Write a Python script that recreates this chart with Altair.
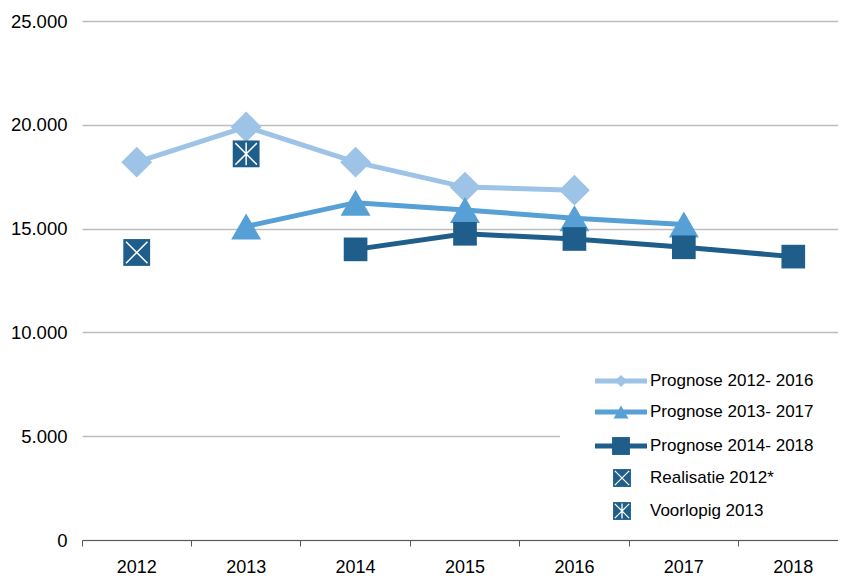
import altair as alt
import pandas as pd

# ---------------- data ----------------
years = ["2012", "2013", "2014", "2015", "2016", "2017", "2018"]
series_names = ["Prognose 2012- 2016", "Prognose 2013- 2017", "Prognose 2014- 2018"]
prognose_2012_2016 = [18200, 19900, 18200, 17000, 16850, None, None]
prognose_2013_2017 = [None, 15100, 16250, 15900, 15500, 15200, None]
prognose_2014_2018 = [None, None, 14000, 14750, 14500, 14100, 13650]
realisatie_label = "Realisatie 2012*"
realisatie_2012 = [13850, None, None, None, None, None, None]
voorlopig_label = "Voorlopig 2013"
voorlopig_2013 = [None, 18600, None, None, None, None, None]
y_ticks = [0, 5000, 10000, 15000, 20000, 25000]

# ---------------- styles ----------------
FONT = "Liberation Sans"
colors = ["#9DC3E6", "#56A0D6", "#1F5E8A"]
shapes = ["diamond", "triangle-up", "square"]
sizes = [950, 900, 560]
legend_sizes = [150, 220, 320]
X_PATH = "M-0.8,-0.8L0.8,0.8M-0.8,0.8L0.8,-0.8"
AST_PATH = "M-0.8,-0.8L0.8,0.8M-0.8,0.8L0.8,-0.8M0,-0.85L0,0.85"

W, H = 766, 519

all_series = [prognose_2012_2016, prognose_2013_2017, prognose_2014_2018]

x_enc = alt.X("year:N", sort=years,
              scale=alt.Scale(type="band", domain=years, paddingInner=0, paddingOuter=0),
              axis=alt.Axis(title=None, labelAngle=0, bandPosition=0, tickSize=6,
                            domain=True, domainColor="#595959", tickColor="#595959",
                            labelFont=FONT, labelFontSize=18, labelColor="#000000",
                            labelPadding=12, grid=False))
y_enc_kw = dict(scale=alt.Scale(domain=[0, 25000], nice=False),
                axis=alt.Axis(title=None, values=y_ticks, grid=True, gridColor="#BDBDBD",
                              gridWidth=1.5, domain=False, ticks=False, tickSize=0,
                              labelPadding=15, labelFont=FONT, labelFontSize=18.5,
                              labelColor="#000000",
                              labelExpr="replace(format(datum.value, ','), ',', '.')"))

layers = []
for i, (name, vals) in enumerate(zip(series_names, all_series)):
    df = pd.DataFrame({"year": [y for y, v in zip(years, vals) if v is not None],
                       "value": [v for v in vals if v is not None]})
    layers.append(alt.Chart(df).mark_line(color=colors[i], strokeWidth=5).encode(
        x=x_enc, y=alt.Y("value:Q", **y_enc_kw)))
    layers.append(alt.Chart(df).mark_point(shape=shapes[i], filled=True, opacity=1,
                                           color=colors[i], size=sizes[i], strokeWidth=0).encode(
        x=x_enc, y=alt.Y("value:Q", **y_enc_kw)))

for vals, path in [(realisatie_2012, X_PATH), (voorlopig_2013, AST_PATH)]:
    df = pd.DataFrame({"year": [y for y, v in zip(years, vals) if v is not None],
                       "value": [v for v in vals if v is not None]})
    layers.append(alt.Chart(df).mark_point(shape="square", filled=True, opacity=1,
                                           color=colors[2], size=720, strokeWidth=0).encode(
        x=x_enc, y=alt.Y("value:Q", **y_enc_kw)))
    layers.append(alt.Chart(df).mark_point(shape=path, filled=False, opacity=1,
                                           stroke="white", size=720, strokeWidth=1.5).encode(
        x=x_enc, y=alt.Y("value:Q", **y_enc_kw)))

# ---------------- legend (drawn manually) ----------------
one = pd.DataFrame({"a": [0]})
layers.append(alt.Chart(one).mark_rect(color="white").encode(
    x=alt.value(478), x2=alt.value(W), y=alt.value(320), y2=alt.value(510)))

legend_labels = series_names + [realisatie_label, voorlopig_label]
legend_y = [360, 391, 425, 457, 490]
for i, label in enumerate(legend_labels):
    ly = legend_y[i]
    if i < 3:
        layers.append(alt.Chart(one).mark_rule(color=colors[i], strokeWidth=5).encode(
            x=alt.value(513), x2=alt.value(565), y=alt.value(ly)))
        layers.append(alt.Chart(one).mark_point(shape=shapes[i], filled=True, opacity=1,
                                                color=colors[i], size=legend_sizes[i],
                                                strokeWidth=0).encode(
            x=alt.value(539), y=alt.value(ly)))
    else:
        path = X_PATH if i == 3 else AST_PATH
        layers.append(alt.Chart(one).mark_point(shape="square", filled=True, opacity=1,
                                                color=colors[2], size=320, strokeWidth=0).encode(
            x=alt.value(540), y=alt.value(ly)))
        layers.append(alt.Chart(one).mark_point(shape=path, filled=False, opacity=1,
                                                stroke="white", size=320, strokeWidth=1.3).encode(
            x=alt.value(540), y=alt.value(ly)))
    layers.append(alt.Chart(pd.DataFrame({"label": [label]})).mark_text(
        align="left", baseline="middle", font=FONT, fontSize=17, color="#000000").encode(
        x=alt.value(568), y=alt.value(ly), text="label:N"))

chart = alt.layer(*layers).properties(
    width=W, height=H,
    autosize=alt.AutoSizeParams(type="none"),
    padding={"left": 74, "top": 13, "right": -10, "bottom": 36},
).configure(
    background="white"
).configure_view(
    stroke="transparent", strokeWidth=0
).configure_axis(
    domain=False, grid=False
).configure_axisY(
    domain=False
)

chart.save("out.html", embed_options={"renderer": "svg", "actions": False})
